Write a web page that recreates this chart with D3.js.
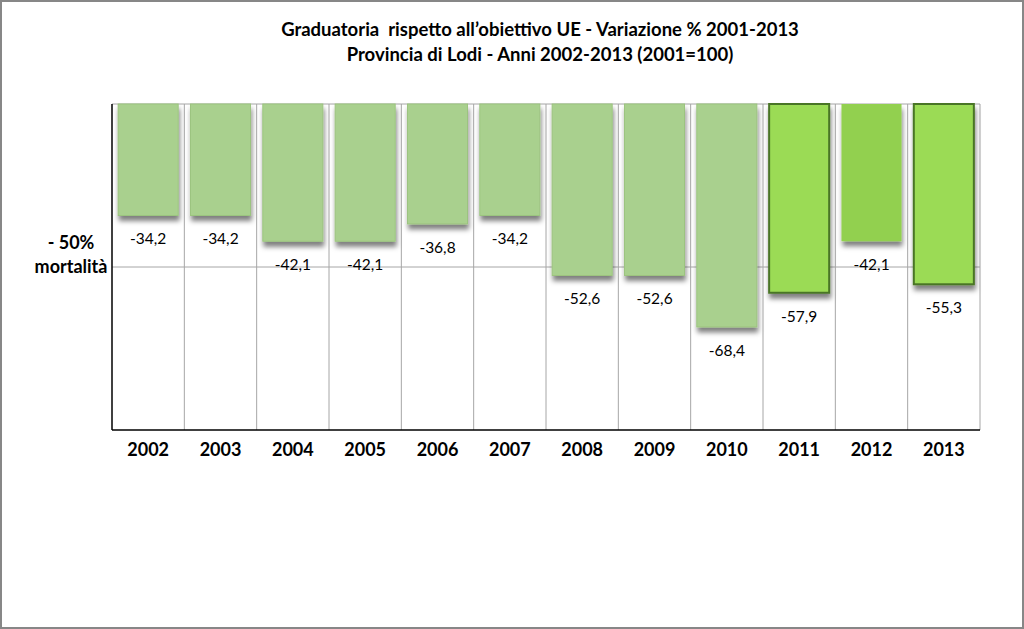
<!DOCTYPE html>
<html><head><meta charset="utf-8">
<script src="https://cdn.jsdelivr.net/npm/d3@7"></script>
<style>body{margin:0;background:#fff}svg{display:block}</style>
</head><body>
<script>
const years = ["2002","2003","2004","2005","2006","2007","2008","2009","2010","2011","2012","2013"];
const values = [-34.2,-34.2,-42.1,-42.1,-36.8,-34.2,-52.6,-52.6,-68.4,-57.9,-42.1,-55.3];
const barKind = ["a","a","a","a","a","a","a","a","a","b","c","b"];
const titleLines = ["Graduatoria  rispetto all\u2019obiettivo UE - Variazione % 2001-2013","Provincia di Lodi - Anni 2002-2013 (2001=100)"];
const refValue = -50;
const refLabel = ["- 50%","mortalità"];

const W=1024,H=629;
const m={l:112,r:980,t:104,b:430};
const svg=d3.select("body").append("svg").attr("width",W).attr("height",H);
const defs=svg.append("defs");
const f=defs.append("filter").attr("id","sh").attr("x","-20%").attr("y","-20%").attr("width","140%").attr("height","140%");
f.append("feDropShadow").attr("dx",1).attr("dy",5).attr("stdDeviation",2.5).attr("flood-color","#000").attr("flood-opacity",0.5);

svg.append("rect").attr("x",1).attr("y",1).attr("width",W-2).attr("height",H-2).attr("fill","#fff").attr("stroke","#878787").attr("stroke-width",2);

const x=d3.scaleBand().domain(years).range([m.l,m.r]).paddingInner(0.17).paddingOuter(0.085);
const y=d3.scaleLinear().domain([-100,0]).range([m.b,m.t]);

// grid
const bw=(m.r-m.l)/years.length;
const g=svg.append("g");
g.selectAll("line.v").data(d3.range(1,years.length+1)).join("line")
 .attr("x1",i=>m.l+i*bw).attr("x2",i=>m.l+i*bw).attr("y1",m.t).attr("y2",m.b)
 .attr("stroke","#a6a6a6").attr("stroke-width",1);
g.append("line").attr("x1",m.l).attr("x2",m.r).attr("y1",m.t).attr("y2",m.t).attr("stroke","#a6a6a6");
g.append("line").attr("x1",m.l).attr("x2",m.r).attr("y1",y(refValue)).attr("y2",y(refValue)).attr("stroke","#a6a6a6");

const fill={a:"#a9d08e",b:"#9bdb55",c:"#92d050"};
const stroke={a:"#9cc47f",b:"#4a7526",c:"none"};
svg.append("g").selectAll("rect").data(values).join("rect")
 .attr("x",(d,i)=>x(years[i])).attr("width",x.bandwidth())
 .attr("y",y(0)).attr("height",d=>y(d)-y(0))
 .attr("fill",(d,i)=>fill[barKind[i]])
 .attr("stroke",(d,i)=>stroke[barKind[i]])
 .attr("stroke-width",(d,i)=>barKind[i]==="b"?2:1)
 .attr("filter","url(#sh)");

// axes lines
svg.append("line").attr("x1",m.l).attr("x2",m.l).attr("y1",m.t).attr("y2",m.b).attr("stroke","#000").attr("stroke-width",1.5);
svg.append("line").attr("x1",m.l).attr("x2",m.r).attr("y1",m.b).attr("y2",m.b).attr("stroke","#000").attr("stroke-width",1.5);

const font="Lato, 'Open Sans', sans-serif";
// value labels
svg.append("g").selectAll("text").data(values).join("text")
 .attr("x",(d,i)=>x(years[i])+x.bandwidth()/2).attr("y",d=>y(d)+29)
 .attr("text-anchor","middle").attr("font-family",font).attr("font-size",15.5).attr("fill","#000")
 .text(d=>d.toFixed(1).replace(".",","));

// x labels
const xa=svg.append("g").attr("transform",`translate(0,${m.b})`).call(d3.axisBottom(x).tickSize(0).tickPadding(13));
xa.select(".domain").remove();
xa.selectAll("text").attr("font-family",font).attr("font-size",18).attr("font-weight","bold").attr("fill","#000");

// ref label
svg.append("g").selectAll("text").data(refLabel).join("text")
 .attr("x",71).attr("y",(d,i)=>y(refValue)-18+i*24)
 .attr("text-anchor","middle").attr("font-family",font).attr("font-size",18).attr("font-weight","bold").text(d=>d);

// title
svg.append("g").selectAll("text").data(titleLines).join("text")
 .attr("x",540).attr("y",(d,i)=>36+i*25).attr("text-anchor","middle")
 .attr("font-family",font).attr("font-size",18.5).attr("font-weight","bold").attr("xml:space","preserve").style("white-space","pre").text(d=>d);
</script>
</body></html>
